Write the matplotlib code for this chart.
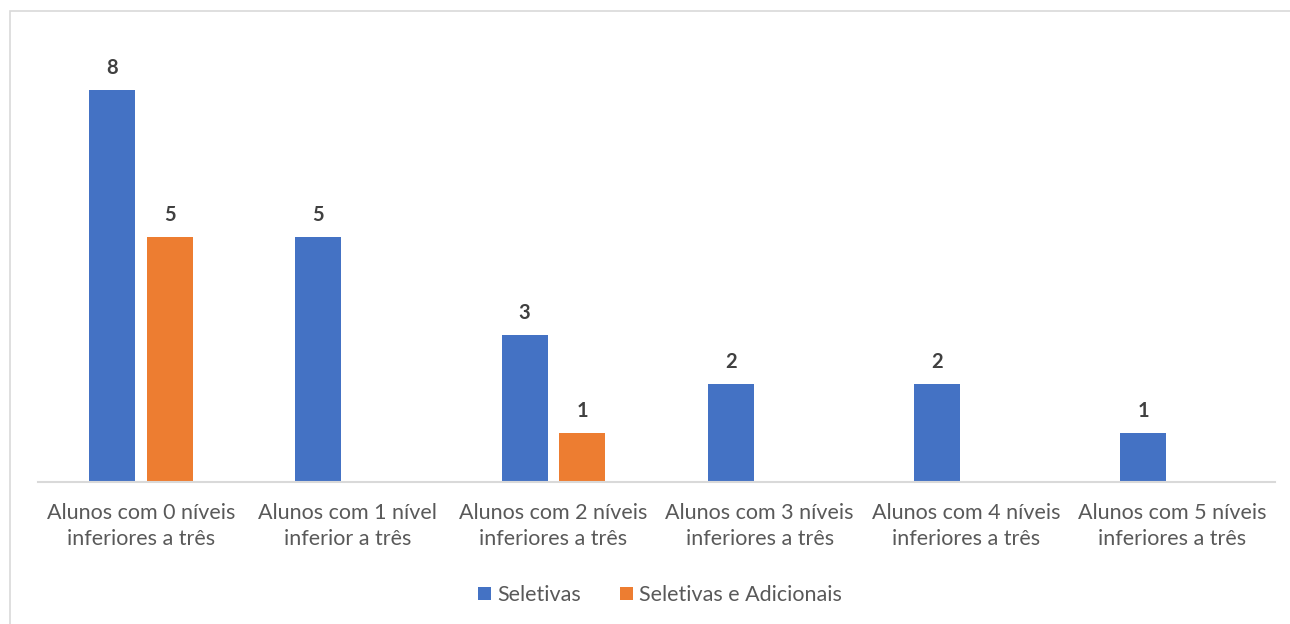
import numpy as np
import matplotlib.pyplot as plt
from matplotlib.patches import Rectangle

categories = ['Alunos com 0 níveis\ninferiores a três',
              'Alunos com 1 nível\ninferior a três',
              'Alunos com 2 níveis\ninferiores a três',
              'Alunos com 3 níveis\ninferiores a três',
              'Alunos com 4 níveis\ninferiores a três',
              'Alunos com 5 níveis\ninferiores a três']
seletivas = [8, 5, 3, 2, 2, 1]
seletivas_adicionais = [5, np.nan, 1, np.nan, np.nan, np.nan]

plt.rcParams['font.family'] = ['Lato', 'DejaVu Sans']

fig = plt.figure(figsize=(12.9, 6.24), dpi=100)
ax = fig.add_axes([38 / 1290, 142 / 624, 1237 / 1290, 441 / 624])

# chart border (top and left visible)
fig.patches.append(Rectangle((10 / 1290, -0.1), 1.2, (624 - 11) / 624 + 0.1,
                             transform=fig.transFigure, fill=False,
                             edgecolor='#D9D9D9', linewidth=1.2))

x = np.arange(len(categories))
w = 0.223
off = 0.14
b1 = ax.bar(x - off, seletivas, w, color='#4472C4', label='Seletivas')
b2 = ax.bar(x + off, seletivas_adicionais, w, color='#ED7D31', label='Seletivas e Adicionais')

for bars, vals in [(b1, seletivas), (b2, seletivas_adicionais)]:
    for bar, v in zip(bars, vals):
        if np.isnan(v):
            continue
        ax.text(bar.get_x() + bar.get_width() / 2, v + 0.25, f'{v:g}',
                ha='center', va='bottom', fontsize=14.5, fontweight='bold', color='#404040')

ax.set_xlim(-0.5, len(categories) - 0.5)
ax.set_ylim(0, 9)
ax.set_yticks([])
ax.set_xticks(x)
ax.set_xticklabels(categories, fontsize=15.5, color='#595959', linespacing=1.4)
ax.tick_params(axis='x', length=0, pad=15)
for s in ['top', 'right', 'left']:
    ax.spines[s].set_visible(False)
ax.spines['bottom'].set_color('#D9D9D9')
ax.spines['bottom'].set_linewidth(1.5)

fig.legend(handles=[b1, b2], loc='center', bbox_to_anchor=(660 / 1290, 1 - 595 / 624),
           ncol=2, frameon=False, fontsize=15.5, labelcolor='#595959',
           handlelength=0.6, handleheight=0.6, handletextpad=0.3, columnspacing=1.8)

fig.savefig('out.png', dpi=100)
